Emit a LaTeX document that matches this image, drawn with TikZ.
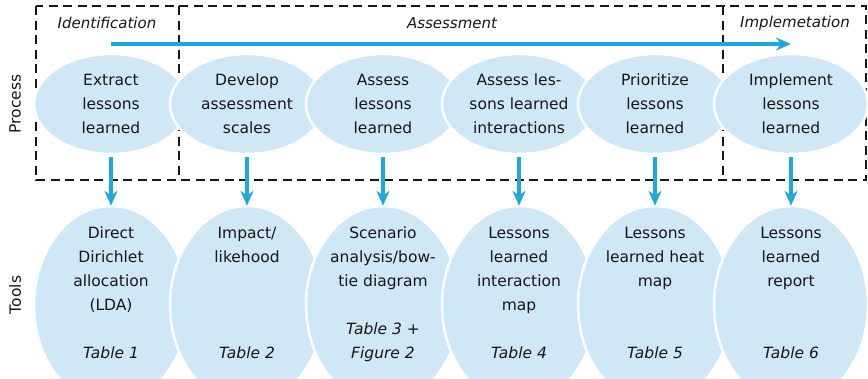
\documentclass[tikz,border=0pt]{standalone}
\usepackage{fontspec}
\setmainfont{DejaVu Sans}
\usetikzlibrary{shapes.geometric,arrows.meta}

\definecolor{lessonblue}{RGB}{208,231,245}
\definecolor{flowblue}{RGB}{27,169,225}
\definecolor{inktext}{RGB}{25,22,23}

\tikzset{
  stagebox/.style={draw=inktext, line width=1.1pt, dash pattern=on 9pt off 5.5pt},
  stagelabel/.style={text=inktext, inner sep=0pt, font=\fontsize{15}{18}\selectfont\itshape},
  rowlabel/.style={text=inktext, inner sep=0pt, rotate=90, font=\fontsize{15.5}{18}\selectfont},
  proccell/.style={ellipse, fill=lessonblue, draw=white, line width=2.5pt,
    minimum width=154pt, minimum height=100pt, inner sep=0pt, align=center,
    text=inktext, font=\fontsize{15.5}{24}\selectfont},
  toolcell/.style={ellipse, fill=lessonblue, draw=white, line width=2.5pt,
    minimum width=154pt, minimum height=198pt, inner sep=0pt},
  tooltext/.style={anchor=north, inner sep=0pt, align=center, text=inktext,
    font=\fontsize{15.5}{24}\selectfont},
  tabletext/.style={tooltext, font=\fontsize{15.5}{24}\selectfont\itshape},
  flowarrow/.style={draw=flowblue, line width=3.5pt,
    -{Stealth[length=15pt,width=13pt,inset=5pt]}}
}

\begin{document}
\begin{tikzpicture}[x=1pt,y=1pt,yscale=-1,xscale=1]
\useasboundingbox (0,0) rectangle (868,378);
\clip (0,0) rectangle (868,378);

%Dashed frame of the three stages
\draw[stagebox] (36,6) rectangle (866,180);
\draw[stagebox] (179,6) -- (179,180);
\draw[stagebox] (723,6) -- (723,180);

% Text Node
\node[stagelabel] (identif) at (107,23) {Identification};
% Text Node
\node[stagelabel] (assess) at (452,23) {Assessment};
% Text Node
\node[stagelabel] (implem) at (795,23) {Implemetation};

% Row labels
\node[rowlabel] (proclabel) at (15,104) {Process};
\node[rowlabel] (toollabel) at (15,295) {Tools};

%Long arrow across the stages
\coordinate (flowstart) at (111,44);
\coordinate (flowend) at (791,44);
\draw[flowarrow] (flowstart) -- (flowend);

%Shape: Process ellipses
\node[proccell] (p1) at (111,104) {Extract\\lessons\\learned};
\node[proccell] (p2) at (247,104) {Develop\\assessment\\scales};
\node[proccell] (p3) at (383,104) {Assess\\lessons\\learned};
\node[proccell] (p4) at (519,104) {Assess les-\\sons learned\\interactions};
\node[proccell] (p5) at (655,104) {Prioritize\\lessons\\learned};
\node[proccell] (p6) at (791,104) {Implement\\lessons\\learned};

%Shape: Tool ellipses
\node[toolcell] (t1) at (111,305) {};
\node[toolcell] (t2) at (247,305) {};
\node[toolcell] (t3) at (383,305) {};
\node[toolcell] (t4) at (519,305) {};
\node[toolcell] (t5) at (655,305) {};
\node[toolcell] (t6) at (791,305) {};

% Text Node
\node[tooltext] (t1name) at (111,227) {Direct\\Dirichlet\\allocation\\(LDA)};
\node[tooltext] (t2name) at (247,227) {Impact/\\likehood};
\node[tooltext] (t3name) at (383,227) {Scenario\\analysis/bow-\\tie diagram};
\node[tooltext] (t4name) at (519,227) {Lessons\\learned\\interaction\\map};
\node[tooltext] (t5name) at (655,227) {Lessons\\learned heat\\map};
\node[tooltext] (t6name) at (791,227) {Lessons\\learned\\report};

% Text Node
\node[tabletext] (t1ref) at (111,347) {Table 1};
\node[tabletext] (t2ref) at (247,347) {Table 2};
\node[tabletext] (t3ref) at (383,323) {Table 3 +\\Figure 2};
\node[tabletext] (t4ref) at (519,347) {Table 4};
\node[tabletext] (t5ref) at (655,347) {Table 5};
\node[tabletext] (t6ref) at (791,347) {Table 6};

%Arrows from process to tool
\foreach \i in {1,...,6}
  \draw[flowarrow, shorten <=2pt, shorten >=-1pt] (p\i) -- (t\i);

\end{tikzpicture}
\end{document}
